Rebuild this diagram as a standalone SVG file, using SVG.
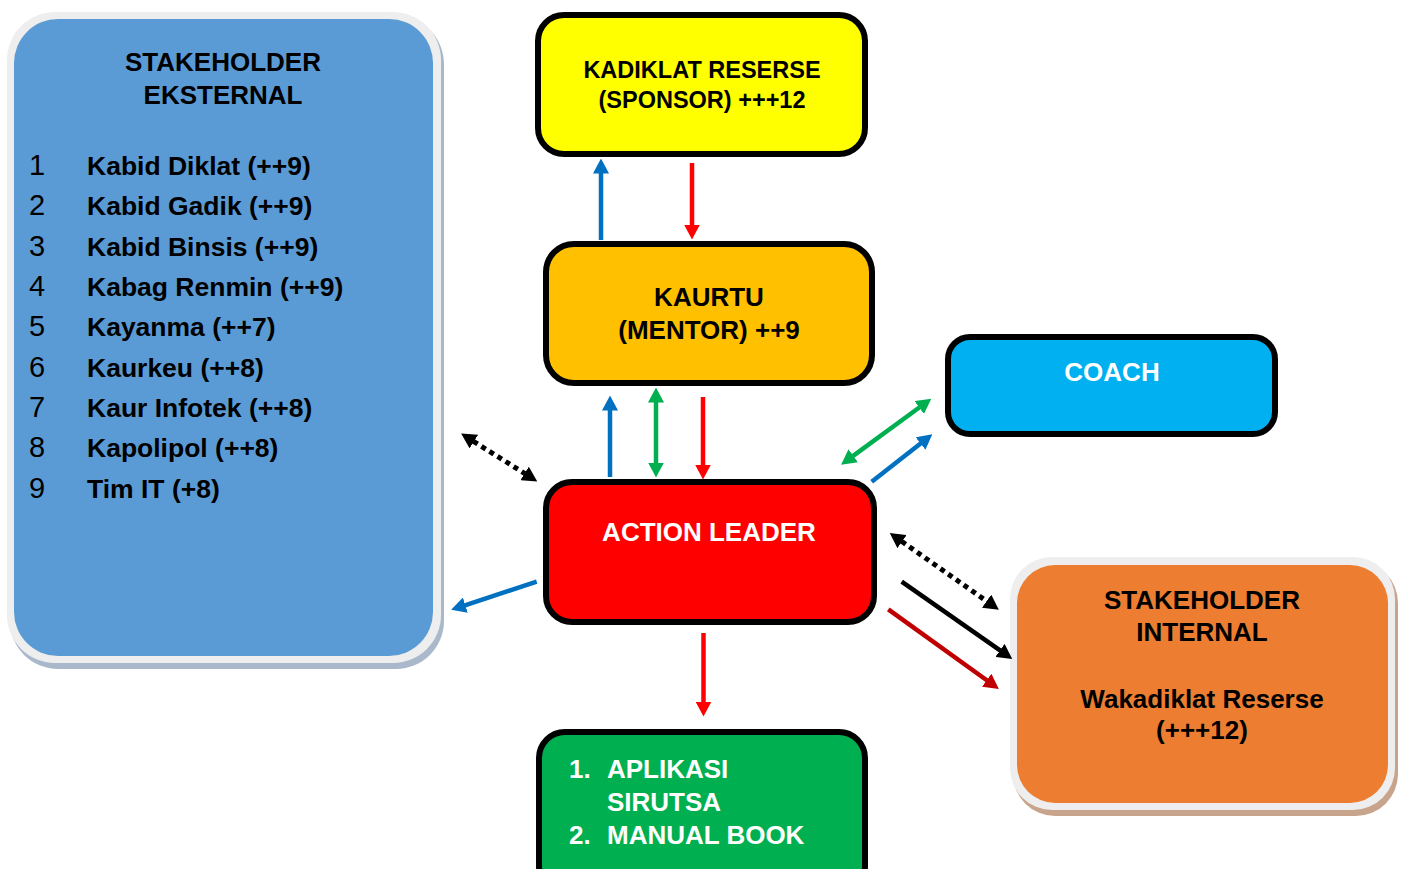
<svg xmlns="http://www.w3.org/2000/svg" width="1403" height="869" viewBox="0 0 1403 869">
  <style>
    text { font-family: "Liberation Sans", Arial, sans-serif; font-weight: bold; }
    .box { stroke: #000; stroke-width: 6; }
    .c { text-anchor: middle; font-size: 26px; }
    .w { fill: #fff; }
    .num { font-weight: normal; font-size: 29px; fill: #000; }
    .item { font-size: 26.5px; fill: #000; }
    .ln { fill: none; stroke-width: 4.5; }
    .dot { fill: none; stroke: #000; stroke-width: 5; stroke-dasharray: 5 4.5; }
  </style>
  <defs>
    <marker id="hBlue" viewBox="0 -8 15 16" refX="0.5" refY="0" markerWidth="15" markerHeight="16" markerUnits="userSpaceOnUse" orient="auto-start-reverse">
      <path d="M0,-8 L15,0 L0,8 Z" fill="#0070c0"/>
    </marker>
    <marker id="hRed" viewBox="0 -8 15 16" refX="0.5" refY="0" markerWidth="15" markerHeight="16" markerUnits="userSpaceOnUse" orient="auto-start-reverse">
      <path d="M0,-8 L15,0 L0,8 Z" fill="#ff0000"/>
    </marker>
    <marker id="hDark" viewBox="0 -8 15 16" refX="0.5" refY="0" markerWidth="15" markerHeight="16" markerUnits="userSpaceOnUse" orient="auto-start-reverse">
      <path d="M0,-8 L15,0 L0,8 Z" fill="#c00000"/>
    </marker>
    <marker id="hGreen" viewBox="0 -8 15 16" refX="0.5" refY="0" markerWidth="15" markerHeight="16" markerUnits="userSpaceOnUse" orient="auto-start-reverse">
      <path d="M0,-8 L15,0 L0,8 Z" fill="#00b050"/>
    </marker>
    <marker id="hBlack" viewBox="0 -8 15 16" refX="0.5" refY="0" markerWidth="15" markerHeight="16" markerUnits="userSpaceOnUse" orient="auto-start-reverse">
      <path d="M0,-8 L15,0 L0,8 Z" fill="#000"/>
    </marker>
  </defs>

  <rect width="1403" height="869" fill="#fff"/>

  <!-- external stakeholders panel -->
  <g id="stakeholder-eksternal">
    <rect x="10" y="16" width="434" height="653" rx="48" fill="#a9b9cb"/>
    <rect x="7" y="12" width="434" height="651" rx="48" fill="#eeeeee"/>
    <rect x="14" y="19" width="419" height="637" rx="44" fill="#5b9bd5"/>
    <text class="c" x="223" y="71" fill="#000">STAKEHOLDER</text>
    <text class="c" x="223" y="104" fill="#000">EKSTERNAL</text>
    <g>
      <text class="num" x="29" y="175">1</text>
      <text class="num" x="29" y="215">2</text>
      <text class="num" x="29" y="255.5">3</text>
      <text class="num" x="29" y="296">4</text>
      <text class="num" x="29" y="336">5</text>
      <text class="num" x="29" y="376.5">6</text>
      <text class="num" x="29" y="416.5">7</text>
      <text class="num" x="29" y="457">8</text>
      <text class="num" x="29" y="497.5">9</text>
      <text class="item" x="87" y="175">Kabid Diklat (++9)</text>
      <text class="item" x="87" y="215">Kabid Gadik (++9)</text>
      <text class="item" x="87" y="255.5">Kabid Binsis (++9)</text>
      <text class="item" x="87" y="296">Kabag Renmin (++9)</text>
      <text class="item" x="87" y="336">Kayanma (++7)</text>
      <text class="item" x="87" y="376.5">Kaurkeu (++8)</text>
      <text class="item" x="87" y="416.5">Kaur Infotek (++8)</text>
      <text class="item" x="87" y="457">Kapolipol (++8)</text>
      <text class="item" x="87" y="497.5">Tim IT (+8)</text>
    </g>
  </g>

  <!-- sponsor -->
  <g id="sponsor">
    <rect class="box" x="538" y="15" width="327" height="139" rx="26" fill="#ffff00"/>
    <text class="c" x="702" y="78" style="font-size:23.5px" fill="#000">KADIKLAT RESERSE</text>
    <text class="c" x="702" y="108" style="font-size:23.5px" fill="#000">(SPONSOR) +++12</text>
  </g>

  <!-- mentor -->
  <g id="mentor">
    <rect class="box" x="546" y="244" width="326" height="139" rx="28" fill="#ffc000"/>
    <text class="c" x="709" y="306" fill="#000">KAURTU</text>
    <text class="c" x="709" y="339" fill="#000">(MENTOR) ++9</text>
  </g>

  <!-- coach -->
  <g id="coach">
    <rect class="box" x="948" y="337" width="327" height="97" rx="22" fill="#00b0f0"/>
    <text class="c w" x="1112" y="381">COACH</text>
  </g>

  <!-- action leader -->
  <g id="action-leader">
    <rect class="box" x="546" y="482" width="328" height="140" rx="26" fill="#ff0000"/>
    <text class="c w" x="709" y="541">ACTION LEADER</text>
  </g>

  <!-- outputs -->
  <g id="output">
    <rect class="box" x="539" y="732" width="326" height="160" rx="26" fill="#00b050"/>
    <text class="w" x="569" y="778" font-size="26">1.</text>
    <text class="w" x="607" y="778" font-size="26">APLIKASI</text>
    <text class="w" x="607" y="811" font-size="26">SIRUTSA</text>
    <text class="w" x="569" y="844" font-size="26">2.</text>
    <text class="w" x="607" y="844" font-size="26">MANUAL BOOK</text>
  </g>

  <!-- internal stakeholders panel -->
  <g id="stakeholder-internal">
    <rect x="1013" y="561" width="385" height="255" rx="42" fill="#c9a48c"/>
    <rect x="1010" y="557" width="385" height="253" rx="42" fill="#eeeeee"/>
    <rect x="1017" y="565" width="371" height="238" rx="38" fill="#ed7d31"/>
    <text class="c" x="1202" y="609" fill="#000">STAKEHOLDER</text>
    <text class="c" x="1202" y="641" fill="#000">INTERNAL</text>
    <text class="c" x="1202" y="708" fill="#000">Wakadiklat Reserse</text>
    <text class="c" x="1202" y="739" fill="#000">(+++12)</text>
  </g>

  <!-- connectors -->
  <g id="connectors">
    <path class="ln" stroke="#0070c0" d="M601,240 V173" marker-end="url(#hBlue)"/>
    <path class="ln" stroke="#ff0000" d="M692,163 V225" marker-end="url(#hRed)"/>
    <path class="ln" stroke="#0070c0" d="M610,477 V410" marker-end="url(#hBlue)"/>
    <path class="ln" stroke="#00b050" d="M656,402 V463" marker-start="url(#hGreen)" marker-end="url(#hGreen)"/>
    <path class="ln" stroke="#ff0000" d="M703,397 V465" marker-end="url(#hRed)"/>
    <path class="ln" stroke="#00b050" d="M852.8,456.1 L919.6,407.2" marker-start="url(#hGreen)" marker-end="url(#hGreen)"/>
    <path class="ln" stroke="#0070c0" d="M871.7,481.7 L920.9,443.2" marker-end="url(#hBlue)"/>
    <path class="dot" d="M901.6,541.3 L987,601.4" marker-start="url(#hBlack)" marker-end="url(#hBlack)"/>
    <path class="ln" stroke="#000" d="M901.7,581.7 L1000.4,650.7" marker-end="url(#hBlack)"/>
    <path class="ln" stroke="#c00000" d="M888.3,609.3 L987.1,680.5" marker-end="url(#hDark)"/>
    <path class="dot" d="M473.4,441.3 L525,473.7" marker-start="url(#hBlack)" marker-end="url(#hBlack)"/>
    <path class="ln" stroke="#0070c0" d="M536.7,581.7 L464.9,605.3" marker-end="url(#hBlue)"/>
    <path class="ln" stroke="#ff0000" d="M703.5,633 V702" marker-end="url(#hRed)"/>
  </g>
</svg>
